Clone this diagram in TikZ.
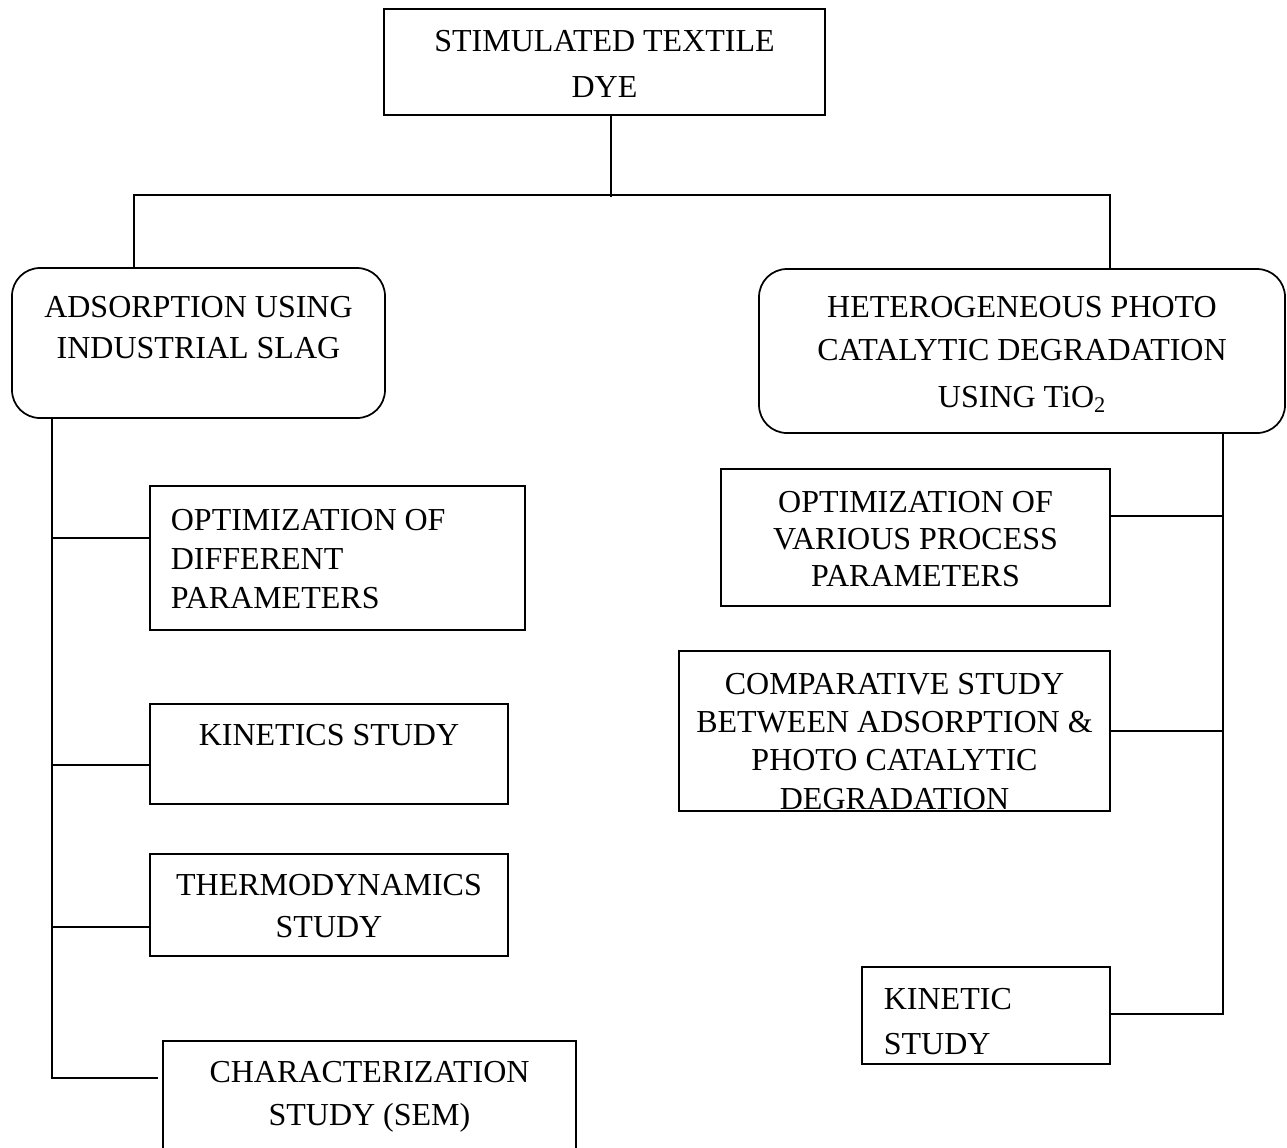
\documentclass[tikz,border=0pt]{standalone}
\usepackage{fontspec}
\setmainfont{Liberation Serif}
\usetikzlibrary{fit}
\begin{document}
\begin{tikzpicture}[x=0.75pt,y=-0.75pt,
  line width=1.3pt,
  box/.style={draw, rectangle, inner sep=0pt, line width=1.3pt},
  rbox/.style={box, rounded corners=21pt},
  txt/.style={inner sep=0pt, anchor=north, align=center},
  ltxt/.style={inner sep=0pt, anchor=north west, align=left},
  conn/.style={draw, line width=1.3pt}]
\useasboundingbox (0,0) rectangle (1287,1147);
\clip (0,0) rectangle (1287,1147);
% boxes
\node[box,  fit={(384,9) (825,115)}] (T) {};
\node[rbox, fit={(12,268) (385,418)}] (L) {};
\node[rbox, fit={(759,269) (1285,433)}] (R) {};
\node[box,  fit={(150,486) (525,630)}] (A1) {};
\node[box,  fit={(150,704) (508,804)}] (A2) {};
\node[box,  fit={(150,854) (508,956)}] (A3) {};
\node[box,  fit={(163,1041) (576,1190)}] (A4) {};
\node[box,  fit={(721,469) (1110,606)}] (B1) {};
\node[box,  fit={(679,651) (1110,811)}] (B2) {};
\node[box,  fit={(862,967) (1110,1064)}] (B3) {};
% texts
\node[txt, font=\fontsize{24pt}{34.5pt}\selectfont] (Tt) at (604.5,29) {STIMULATED TEXTILE\\DYE};
\node[txt, font=\fontsize{24pt}{30.75pt}\selectfont] (Lt) at (198.5,295) {ADSORPTION USING\\INDUSTRIAL SLAG};
\node[txt, font=\fontsize{24pt}{32.25pt}\selectfont] (Rt) at (1022,295) {HETEROGENEOUS PHOTO\\CATALYTIC DEGRADATION\\[3pt]USING TiO\textsubscript{2}};
\node[ltxt, font=\fontsize{24pt}{29.25pt}\selectfont] (A1t) at (170,508) {OPTIMIZATION OF\\DIFFERENT\\PARAMETERS};
\node[txt, font=\fontsize{24pt}{30pt}\selectfont] (A2t) at (329,723) {KINETICS STUDY};
\node[txt, font=\fontsize{24pt}{31.5pt}\selectfont] (A3t) at (329,873) {THERMODYNAMICS\\STUDY};
\node[txt, font=\fontsize{24pt}{32.25pt}\selectfont] (A4t) at (369.5,1060) {CHARACTERIZATION\\STUDY (SEM)};
\node[txt, font=\fontsize{24pt}{27.75pt}\selectfont] (B1t) at (915.5,490) {OPTIMIZATION OF\\VARIOUS PROCESS\\PARAMETERS};
\node[txt, font=\fontsize{24pt}{28.75pt}\selectfont] (B2t) at (894.5,672) {COMPARATIVE STUDY\\BETWEEN ADSORPTION \&\\PHOTO CATALYTIC\\DEGRADATION};
\node[ltxt, font=\fontsize{24pt}{33.75pt}\selectfont] (B3t) at (883,987) {KINETIC\\STUDY};
% connectors
\coordinate (hub) at (611,197);
\coordinate (jl) at (134,195);
\coordinate (jr) at (1110,195);
\draw[conn] (hub |- T.south) -- (hub);
\draw[conn] (jl |- L.north) -- (jl) -- (jr) -- (jr |- R.north);
\coordinate (lt) at (52,1078);
\coordinate (a4c) at (158,1078);
\draw[conn] (lt |- L.south) -- (lt) -- (a4c);
\coordinate (la1) at (52,538);
\coordinate (la2) at (52,765);
\coordinate (la3) at (52,927);
\draw[conn] (la1) -- (la1 -| A1.west);
\draw[conn] (la2) -- (la2 -| A2.west);
\draw[conn] (la3) -- (la3 -| A3.west);
\coordinate (rt) at (1223,1014);
\draw[conn] (rt |- R.south) -- (rt) -- (rt -| B3.east);
\coordinate (rb1) at (1223,516);
\coordinate (rb2) at (1223,731);
\draw[conn] (rb1) -- (rb1 -| B1.east);
\draw[conn] (rb2) -- (rb2 -| B2.east);
\end{tikzpicture}
\end{document}
